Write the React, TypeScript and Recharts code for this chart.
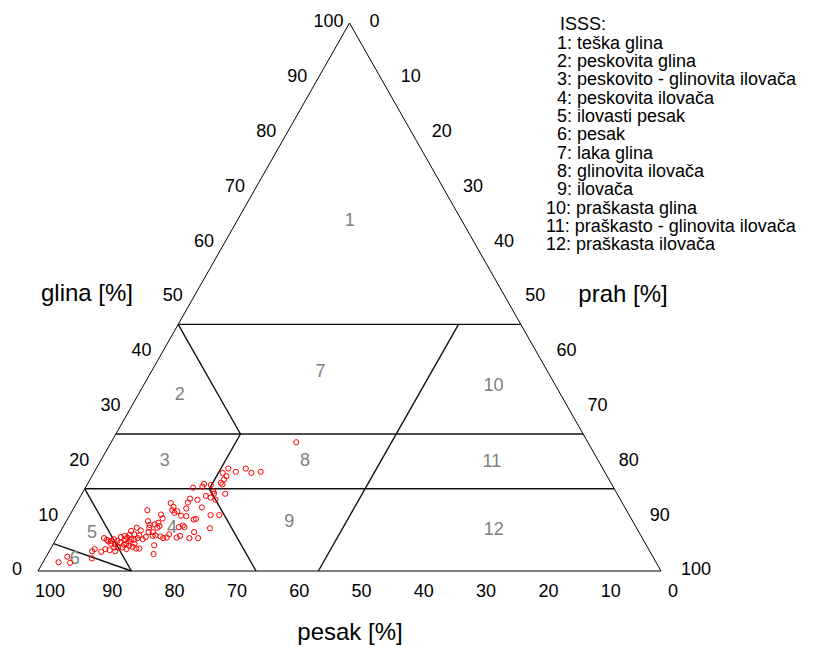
import { ScatterChart, Scatter, XAxis, YAxis, ReferenceLine, Customized } from 'recharts';

// ISSS texture triangle: glina (clay), prah (silt), pesak (sand) in %
const ticks = [0, 10, 20, 30, 40, 50, 60, 70, 80, 90, 100];

const classNames = [
  'teška glina',
  'peskovita glina',
  'peskovito - glinovita ilovača',
  'peskovita ilovača',
  'ilovasti pesak',
  'pesak',
  'laka glina',
  'glinovita ilovača',
  'ilovača',
  'praškasta glina',
  'praškasto - glinovita ilovača',
  'praškasta ilovača',
];

// where the class number sits (clay %, silt %)
const classLabelClay = [64.1, 32.3, 20.3, 8.0, 7.1, 2.4, 36.5, 20.3, 9.1, 34.0, 20.1, 7.7];
const classLabelSilt = [18.0, 6.6, 10.2, 17.5, 5.1, 4.7, 27.1, 32.7, 35.8, 56.1, 62.8, 69.3];

// class boundaries, each as [clay, silt] start and end
const boundaryStart = [[45, 0], [25, 0], [15, 0], [45, 0], [25, 20], [15, 20], [15, 0], [5, 0], [45, 45]];
const boundaryEnd = [[45, 55], [25, 75], [15, 85], [25, 20], [15, 20], [0, 35], [0, 15], [0, 15], [0, 45]];

// samples (sand %, clay %)
const sampleSand = [
  46.8, 57.3, 56.8, 55.2, 59.2, 60.1, 61.4, 61.1, 61.8, 62.6, 62.5, 62.9, 64.7, 64.6, 65.0, 65.6,
  65.8, 67.2, 68.5, 65.4, 65.9, 64.4, 67.5, 66.2, 67.9, 69.0, 69.7, 67.9, 70.5, 69.9, 70.3, 72.5,
  72.4, 72.9, 72.8, 72.2, 72.0, 71.2, 75.1, 75.2, 76.9, 76.4, 77.0, 76.9, 77.8, 78.2, 78.7, 78.0,
  77.9, 78.4, 77.2, 76.9, 76.3, 75.6, 74.7, 74.0, 72.6, 73.4, 72.5, 71.4, 72.7, 71.3, 80.2, 81.4,
  81.2, 79.8, 80.5, 82.0, 82.9, 83.6, 82.6, 82.2, 81.7, 81.0, 82.7, 83.3, 83.8, 83.1, 82.6, 84.3,
  83.8, 82.2, 81.7, 79.0, 79.9, 84.5, 84.9, 85.5, 86.0, 86.4, 86.1, 85.8, 85.2, 85.6, 85.8, 86.6,
  87.2, 88.1, 88.9, 89.5, 90.2, 94.0, 94.1, 95.9, 83.1, 84.2, 82.0, 80.3, 79.6, 85.0, 77.9, 76.3,
];
const sampleClay = [
  23.5, 18.7, 17.9, 18.1, 18.1, 18.7, 17.9, 17.3, 16.7, 16.1, 15.8, 14.1, 14.1, 14.5, 13.0, 13.4,
  10.2, 10.2, 7.8, 15.9, 15.4, 15.7, 15.2, 13.7, 13.0, 13.2, 12.5, 11.6, 11.4, 9.5, 9.4, 12.4,
  11.7, 11.1, 10.6, 10.9, 10.1, 10.0, 10.3, 9.6, 11.1, 8.2, 8.5, 7.9, 9.1, 7.9, 7.1, 7.1,
  6.5, 6.4, 6.3, 6.0, 6.1, 6.7, 6.1, 6.4, 8.3, 8.0, 8.0, 7.1, 6.0, 6.0, 7.9, 7.3,
  6.7, 7.4, 6.5, 6.6, 6.4, 6.2, 6.1, 5.8, 5.7, 6.0, 5.4, 5.0, 4.8, 4.6, 4.4, 4.3,
  4.0, 4.1, 4.1, 4.7, 3.1, 5.5, 5.8, 5.5, 5.4, 6.0, 5.7, 5.0, 4.9, 4.3, 3.6, 3.8,
  4.0, 3.5, 4.0, 3.6, 2.3, 2.6, 1.5, 1.6, 5.8, 5.2, 5.0, 5.8, 6.2, 4.3, 8.4, 8.8,
];

const W = 814;
const H = 647;
const FONT = '"Liberation Sans", Arial, sans-serif';

// ternary -> cartesian (x = silt + clay/2, y = clay)
const toXY = (clay: number, silt: number) => ({ x: silt + clay / 2, y: clay });

const samples = sampleSand.map((s, i) => {
  const clay = sampleClay[i];
  const silt = 100 - s - clay;
  return toXY(clay, silt);
});

const classLabels = classLabelClay.map((c, i) => ({ ...toXY(c, classLabelSilt[i]), label: String(i + 1) }));
const clayTicks = ticks.map((v) => ({ ...toXY(v, 0), label: String(v) }));
const siltTicks = ticks.map((v) => ({ ...toXY(100 - v, v), label: String(v) }));
const sandTicks = ticks.map((v) => ({ ...toXY(0, 100 - v), label: String(v) }));

const edges = [
  [toXY(0, 0), toXY(100, 0)],
  [toXY(100, 0), toXY(0, 100)],
  [toXY(0, 0), toXY(0, 100)],
];

const textShape = (dx: number, dy: number, anchor: string, size: number, color: string) => (p: any) => (
  <text
    x={p.cx + dx}
    y={p.cy + dy}
    dy="0.35em"
    textAnchor={anchor}
    fontSize={size}
    fill={color}
    fontFamily={FONT}
  >
    {p.payload.label}
  </text>
);

const Overlay = () => (
  <g fontFamily={FONT}>
    <text x={87} y={293} dy="0.35em" textAnchor="middle" fontSize={24}>glina [%]</text>
    <text x={623} y={294} dy="0.35em" textAnchor="middle" fontSize={24}>prah [%]</text>
    <text x={350} y={632} dy="0.35em" textAnchor="middle" fontSize={24}>pesak [%]</text>
    <text x={560} y={29.5} fontSize={18}>ISSS:</text>
    {classNames.map((name, i) => (
      <text key={name} x={i + 1 >= 10 ? 546 : 557} y={48.5 + i * 18.35} fontSize={18}>
        {`${i + 1}: ${name}`}
      </text>
    ))}
  </g>
);

export default function App() {
  return (
    <div style={{ position: 'absolute', left: 0, top: 0, background: '#fff' }}>
      <ScatterChart width={W} height={H} margin={{ top: 23, right: 153, bottom: 76, left: 38 }}>
        <XAxis type="number" dataKey="x" domain={[0, 100]} hide />
        <YAxis type="number" dataKey="y" domain={[0, 100]} hide />

        {edges.map((seg, i) => (
          <ReferenceLine key={'e' + i} segment={seg} stroke="#000" strokeWidth={1} ifOverflow="visible" />
        ))}
        {boundaryStart.map((a, i) => (
          <ReferenceLine
            key={'b' + i}
            segment={[toXY(a[0], a[1]), toXY(boundaryEnd[i][0], boundaryEnd[i][1])]}
            stroke="#111"
            strokeWidth={1.4}
            ifOverflow="visible"
          />
        ))}

        <Scatter data={clayTicks} isAnimationActive={false} shape={textShape(-21, -2, 'middle', 18, '#000')} />
        <Scatter data={siltTicks} isAnimationActive={false} shape={textShape(20, -2, 'start', 18, '#000')} />
        <Scatter data={sandTicks} isAnimationActive={false} shape={textShape(12, 20, 'middle', 18, '#000')} />
        <Scatter data={classLabels} isAnimationActive={false} shape={textShape(0, 0, 'middle', 18, '#808080')} />

        <Scatter
          data={samples}
          isAnimationActive={false}
          shape={(p: any) => <circle cx={p.cx} cy={p.cy} r={2.6} fill="none" stroke="#ff0000" strokeWidth={1} />}
        />

        <Customized component={Overlay} />
      </ScatterChart>
    </div>
  );
}
